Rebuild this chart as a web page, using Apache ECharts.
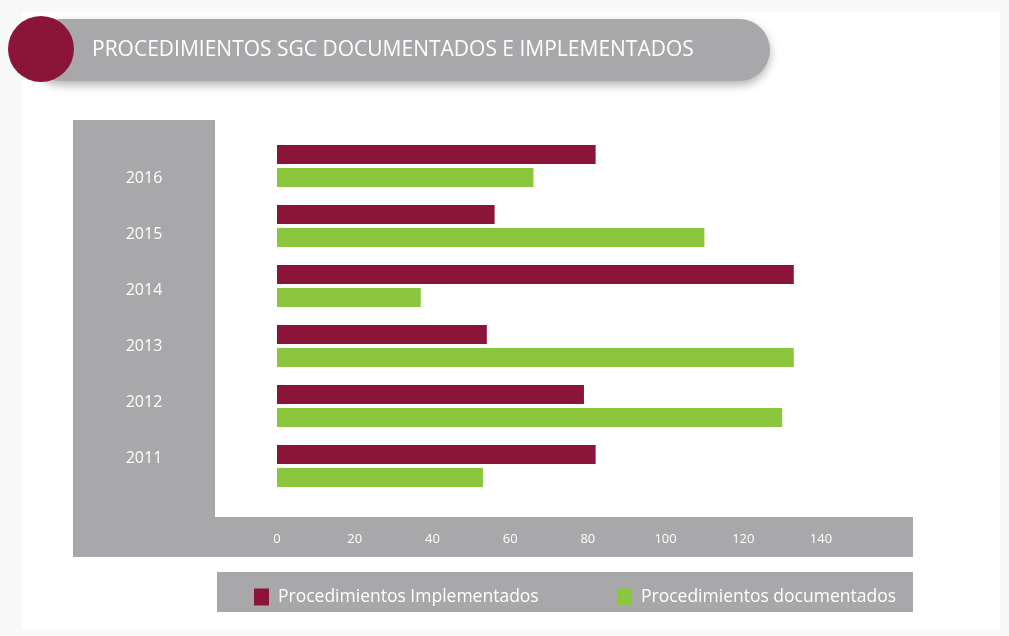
<!DOCTYPE html>
<html>
<head>
<meta charset="utf-8">
<title>Procedimientos SGC</title>
<script src="https://cdn.jsdelivr.net/npm/echarts@6/dist/echarts.min.js"></script>
<style>
    html, body { margin: 0; padding: 0; background: #f9f9f9; }
    #chart { width: 1009px; height: 636px; }
</style>
</head>
<body>
<div id="chart"></div>
<script>
// datos
const years = ['2011', '2012', '2013', '2014', '2015', '2016']
const implementados = [82, 79, 54, 133, 56, 82]
const documentados = [53, 130, 133, 37, 110, 66]
const xTicks = { min: 0, max: 140, interval: 20 }

const GRAY = '#a8a8aa'
const MAROON = '#8a1538'
const GREEN = '#8cc63f'
const FONT = '"Open Sans", "Noto Sans", sans-serif'

const chart = echarts.init(document.getElementById('chart'))

chart.setOption({
    backgroundColor: '#f9f9f9',
    textStyle: { fontFamily: FONT },
    title: {
        text: 'PROCEDIMIENTOS SGC DOCUMENTADOS E IMPLEMENTADOS',
        left: 87,
        top: 35,
        textStyle: { color: '#ffffff', fontSize: 21, fontWeight: 'normal', fontFamily: FONT }
    },
    graphic: [
        // tarjeta blanca
        { type: 'rect', z: -10, shape: { x: 22, y: 12, width: 978, height: 618 }, style: { fill: '#ffffff' } },
        // barra del titulo
        {
            type: 'rect', z: -5,
            shape: { x: 30, y: 19, width: 740, height: 62, r: 31 },
            style: { fill: GRAY, shadowBlur: 10, shadowColor: 'rgba(0,0,0,0.3)', shadowOffsetY: 4 }
        },
        { type: 'circle', z: -4, shape: { cx: 41, cy: 49, r: 33 }, style: { fill: MAROON } },
        // marco gris del grafico
        { type: 'rect', z: -5, shape: { x: 73, y: 120, width: 142, height: 437 }, style: { fill: GRAY } },
        { type: 'rect', z: -5, shape: { x: 215, y: 517, width: 698, height: 40 }, style: { fill: GRAY } },
        // banda de la leyenda
        { type: 'rect', z: -5, shape: { x: 217, y: 572, width: 696, height: 40 }, style: { fill: GRAY } }
    ],
    legend: [
        {
            data: ['Procedimientos Implementados'],
            left: 249, top: 583,
            itemWidth: 15, itemHeight: 17, itemGap: 0,
            icon: 'rect',
            textStyle: { color: '#ffffff', fontSize: 17.5, fontFamily: FONT, padding: [0, 0, 0, 4] }
        },
        {
            data: ['Procedimientos documentados'],
            left: 612, top: 583,
            itemWidth: 15, itemHeight: 17, itemGap: 0,
            icon: 'rect',
            textStyle: { color: '#ffffff', fontSize: 17.5, fontFamily: FONT, padding: [0, 0, 0, 4] }
        }
    ],
    grid: [
        { left: 277, right: 188, top: 136, height: 360 },
        // solo para las etiquetas de los anos
        { left: 215, right: 100, top: 150, height: 337 }
    ],
    xAxis: [
        {
            type: 'value',
            gridIndex: 0,
            min: xTicks.min,
            max: xTicks.max,
            interval: xTicks.interval,
            splitLine: { show: false },
            axisLine: { show: false },
            axisTick: { show: false },
            axisLabel: { color: '#ffffff', fontSize: 13, margin: 37, fontFamily: FONT }
        },
        { type: 'value', gridIndex: 1, show: false }
    ],
    yAxis: [
        {
            type: 'category',
            gridIndex: 0,
            data: years,
            axisLine: { show: false },
            axisTick: { show: false },
            axisLabel: { show: false }
        },
        {
            type: 'category',
            gridIndex: 1,
            data: years,
            axisLine: { show: false },
            axisTick: { show: false },
            axisLabel: { color: '#ffffff', fontSize: 16, align: 'center', margin: 71, fontFamily: FONT }
        }
    ],
    series: [
        {
            name: 'Procedimientos Implementados',
            type: 'bar',
            xAxisIndex: 0, yAxisIndex: 0,
            barWidth: 19,
            barGap: '21%',
            itemStyle: { color: MAROON },
            data: implementados
        },
        {
            name: 'Procedimientos documentados',
            type: 'bar',
            xAxisIndex: 0, yAxisIndex: 0,
            barWidth: 19,
            barGap: '21%',
            itemStyle: { color: GREEN },
            data: documentados
        }
    ]
})
</script>
</body>
</html>
